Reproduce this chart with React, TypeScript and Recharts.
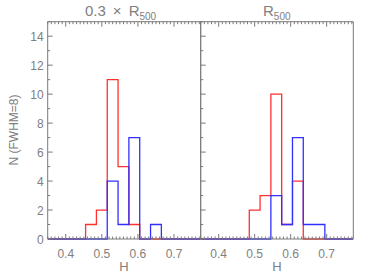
import React from "react";
import { LineChart, Line, XAxis, YAxis } from "recharts";

// histogram bins (centres, width 0.03)
const binCenters = [0.47, 0.5, 0.53, 0.56, 0.59, 0.62, 0.65, 0.68];
const binWidth = 0.03;

// 0.3 x R500 panel
const redInner = [1, 2, 11, 5, 1, 0, 0, 0];
const blueInner = [0, 0, 4, 1, 7, 0, 1, 0];

// R500 panel
const redOuter = [0, 2, 3, 10, 1, 4, 0, 0];
const blueOuter = [0, 0, 0, 3, 1, 7, 1, 1];

const xLabels = [0.4, 0.5, 0.6, 0.7];
const yLabels = [0, 2, 4, 6, 8, 10, 12, 14];
const X_MIN = 0.35;
const X_MAX = 0.774;
const Y_MAX = 15;

const AXIS = "#7a7a7a";
const TEXT = "#808080";
const FONT = "'Liberation Sans', Arial, sans-serif";

const xTicks: number[] = [];
for (let i = 35; i <= 77; i++) xTicks.push(i / 100);
const yTicks: number[] = [];
for (let i = 0; i <= Y_MAX; i++) yTicks.push(i);

function steps(red: number[], blue: number[]) {
  const pts = [{ h: X_MIN, red: 0, blue: 0 }];
  binCenters.forEach((c, i) => {
    pts.push({ h: +(c - binWidth / 2).toFixed(3), red: red[i], blue: blue[i] });
  });
  const last = binCenters[binCenters.length - 1] + binWidth / 2;
  pts.push({ h: +last.toFixed(3), red: 0, blue: 0 });
  pts.push({ h: X_MAX, red: 0, blue: 0 });
  return pts;
}

const isMajorX = (v: number) => Math.abs(v * 10 - Math.round(v * 10)) < 1e-6;

const BottomTick = (props: any) => {
  const { x, y, payload, showLabel } = props;
  const v = payload.value;
  const major = isMajorX(v);
  const label = xLabels.find((l) => Math.abs(l - v) < 1e-6);
  return (
    <g>
      <line x1={x} x2={x} y1={y} y2={y - (major ? 5 : 2.5)} stroke={AXIS} strokeWidth={1} />
      {showLabel && label !== undefined && (
        <text x={x} y={y + 19} textAnchor="middle" fontSize={12} fill={TEXT} fontFamily={FONT}>
          {label.toFixed(1)}
        </text>
      )}
    </g>
  );
};

const TopTick = (props: any) => {
  const { x, y, payload } = props;
  const major = isMajorX(payload.value);
  return <line x1={x} x2={x} y1={y} y2={y + (major ? 5 : 2.5)} stroke={AXIS} strokeWidth={1} />;
};

const LeftTick = (props: any) => {
  const { x, y, payload, showLabel } = props;
  const v = payload.value;
  const major = v % 2 === 0;
  return (
    <g>
      <line x1={x} x2={x + (major ? 5 : 2.5)} y1={y} y2={y} stroke={AXIS} strokeWidth={1} />
      {showLabel && yLabels.includes(v) && (
        <text x={x - 4} y={y + 4.5} textAnchor="end" fontSize={12} fill={TEXT} fontFamily={FONT}>
          {v}
        </text>
      )}
    </g>
  );
};

const RightTick = (props: any) => {
  const { x, y, payload } = props;
  const major = payload.value % 2 === 0;
  return <line x1={x} x2={x - (major ? 5 : 2.5)} y1={y} y2={y} stroke={AXIS} strokeWidth={1} />;
};

function Panel({ data, left, right, showY }: { data: any[]; left: number; right: number; showY: boolean }) {
  return (
    <div style={{ position: "absolute", left: 0, top: 0 }}>
      <LineChart
        width={374}
        height={278}
        data={data}
        margin={{ top: 20.7, right: right - 1, bottom: 38, left: left - 1 }}
      >
        <XAxis
          dataKey="h"
          type="number"
          domain={[X_MIN, X_MAX]}
          ticks={xTicks}
          interval={0}
          height={1}
          tickSize={0}
          tickMargin={0}
          tickLine={false}
          axisLine={{ stroke: AXIS }}
          tick={<BottomTick showLabel />}
          allowDataOverflow
        />
        <XAxis
          xAxisId="top"
          orientation="top"
          dataKey="h"
          type="number"
          domain={[X_MIN, X_MAX]}
          ticks={xTicks}
          interval={0}
          height={1}
          tickSize={0}
          tickMargin={0}
          tickLine={false}
          axisLine={{ stroke: AXIS }}
          tick={<TopTick />}
          allowDataOverflow
        />
        <YAxis
          type="number"
          domain={[0, Y_MAX]}
          ticks={yTicks}
          interval={0}
          width={1}
          tickSize={0}
          tickMargin={0}
          tickLine={false}
          axisLine={{ stroke: AXIS }}
          tick={<LeftTick showLabel={showY} />}
        />
        <YAxis
          yAxisId="right"
          orientation="right"
          type="number"
          domain={[0, Y_MAX]}
          ticks={yTicks}
          interval={0}
          width={1}
          tickSize={0}
          tickMargin={0}
          tickLine={false}
          axisLine={{ stroke: AXIS }}
          tick={<RightTick />}
        />
        <Line
          type="stepAfter"
          dataKey="red"
          stroke="#ff3030"
          strokeWidth={1.3}
          dot={false}
          activeDot={false}
          isAnimationActive={false}
        />
        <Line
          type="stepAfter"
          dataKey="blue"
          stroke="#3030ff"
          strokeWidth={1.3}
          dot={false}
          activeDot={false}
          isAnimationActive={false}
        />
      </LineChart>
    </div>
  );
}

export default function App() {
  const inner = steps(redInner, blueInner);
  const outer = steps(redOuter, blueOuter);
  return (
    <div style={{ position: "absolute", left: 0, top: 0, width: 374, height: 278, background: "#fff" }}>
      <Panel data={inner} left={47.7} right={374 - 200.7} showY />
      <Panel data={outer} left={200.7} right={374 - 353.3} showY={false} />
      <svg width={374} height={278} style={{ position: "absolute", left: 0, top: 0, pointerEvents: "none" }}>
        <text x={85} y={16} fontSize={15} fill={TEXT} fontFamily={FONT}>
          0.3
          <tspan dx={7}>×</tspan>
          <tspan dx={7}>R</tspan>
          <tspan dy={4} fontSize={10}>500</tspan>
        </text>
        <text x={263} y={16} fontSize={15} fill={TEXT} fontFamily={FONT}>
          R<tspan dy={4} fontSize={10}>500</tspan>
        </text>
        <text x={124} y={271} textAnchor="middle" fontSize={13} fill={TEXT} fontFamily={FONT}>
          H
        </text>
        <text x={277} y={271} textAnchor="middle" fontSize={13} fill={TEXT} fontFamily={FONT}>
          H
        </text>
        <text
          x={0}
          y={0}
          transform="translate(18,130) rotate(-90)"
          textAnchor="middle"
          fontSize={12}
          fill={TEXT}
          fontFamily={FONT}
        >
          N (FWHM=8)
        </text>
      </svg>
    </div>
  );
}
